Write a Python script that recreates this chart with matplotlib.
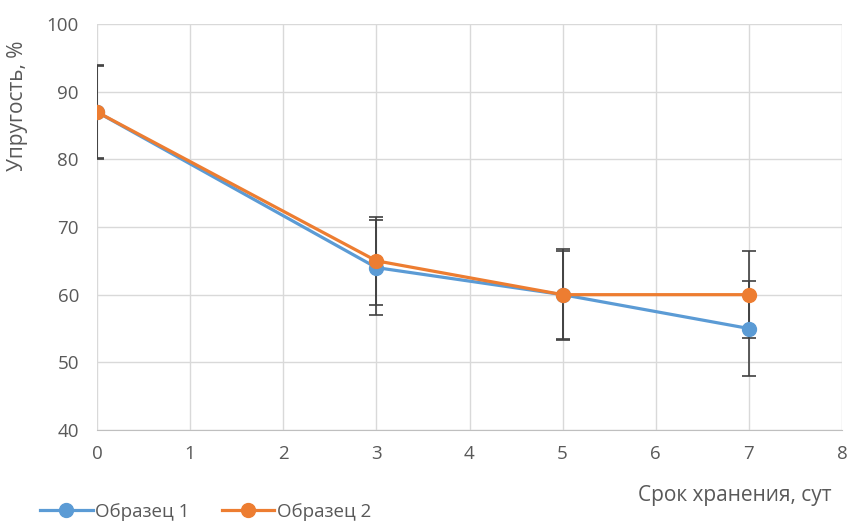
import matplotlib
matplotlib.use("Agg")
import matplotlib.pyplot as plt
from matplotlib.lines import Line2D

plt.rcParams['font.family'] = ['Open Sans', 'DejaVu Sans']

days = [0, 3, 5, 7]
sample1 = [87, 64, 60, 55]
sample1_err = [7.0, 7.0, 6.7, 7.0]
sample2 = [87, 65, 60, 60]
sample2_err = [6.8, 6.5, 6.5, 6.4]
series_names = ["Образец 1", "Образец 2"]
x_ticks = list(range(0, 9))
y_ticks = list(range(40, 101, 10))

W, H = 849, 521
fig = plt.figure(figsize=(W / 100, H / 100), dpi=100)
ax = fig.add_axes([97 / W, 1 - 430 / H, (842 - 97) / W, (430 - 24) / H])

text_color = "#595959"
grid_color = "#D9D9D9"
blue = "#5B9BD5"
orange = "#ED7D31"
err_color = "#404040"

for y, err, c, name in [(sample1, sample1_err, blue, series_names[0]),
                        (sample2, sample2_err, orange, series_names[1])]:
    ax.errorbar(days, y, yerr=err, fmt='none', ecolor=err_color,
                elinewidth=1.2, capsize=5, capthick=1.2, zorder=2)
    ax.plot(days, y, color=c, lw=2.3, marker='o', ms=10,
            markeredgecolor=c, zorder=3, label=name)

ax.set_xlim(0, 8)
ax.set_ylim(40, 100)
ax.set_xticks(x_ticks)
ax.set_yticks(y_ticks)
ax.grid(True, color=grid_color, lw=1)
ax.set_axisbelow(True)
for side in ["top", "right", "left"]:
    ax.spines[side].set_visible(False)
ax.spines["bottom"].set_color("#BFBFBF")
ax.tick_params(axis='both', length=0, labelsize=13.5, colors=text_color)
ax.tick_params(axis='x', pad=11)
ax.tick_params(axis='y', pad=13)

fig.text(18 / W, 1 - 106 / H, "Упругость, %", rotation=90, ha='center',
         va='center', fontsize=15, color=text_color)
fig.text(832 / W, 1 - 496 / H, "Срок хранения, сут", ha='right',
         va='center', fontsize=15, color=text_color)

handles = [Line2D([0], [0], color=blue, lw=2.3, marker='o', ms=10),
           Line2D([0], [0], color=orange, lw=2.3, marker='o', ms=10)]
fig.legend(handles, series_names, loc='center left',
           bbox_to_anchor=(40 / W, 1 - 512 / H), ncol=2, frameon=False,
           fontsize=13.5, labelcolor=text_color, handlelength=2.8,
           handletextpad=0.15, columnspacing=1.7, borderaxespad=0,
           borderpad=0)

fig.savefig("out.png", dpi=100)
